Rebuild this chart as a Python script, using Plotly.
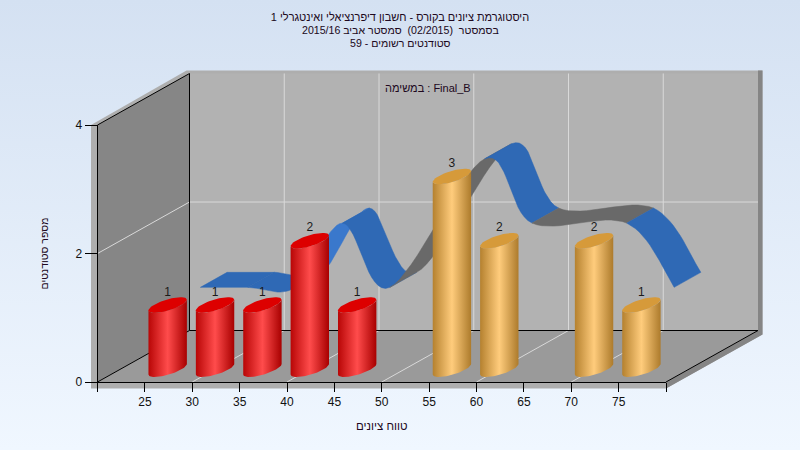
import numpy as np
import plotly.graph_objects as go

# ---- data
low_scores = [25, 30, 35, 40, 45]
low_counts = [1, 1, 1, 2, 1]
high_scores = [55, 60, 70, 75]
high_counts = [3, 2, 2, 1]
trend_scores = [25, 30, 35, 40, 45, 55, 60, 70, 75]
trend_values = [1, 1, 1, 2, 1, 3, 2, 2, 1]
x_ticks = [20, 25, 30, 35, 40, 45, 50, 55, 60, 65, 70, 75, 80]
x_tick_text = ["", "25", "30", "35", "40", "45", "50", "55", "60", "65", "70", "75", ""]
y_ticks = [0, 2, 4]
title_lines = [
    "היסטוגרמת ציונים בקורס - חשבון דיפרנציאלי ואינטגרלי 1",
    "בסמסטר  (02/2015)  סמסטר אביב 2015/16",
    "סטודנטים רשומים - 59",
]
task_note = "במשימה : Final_B"
x_title = "טווח ציונים"
y_title = "מספר סטודנטים"

# ---- geometry (pixels of the 800x450 page)
W, H = 800, 450
L, R, Y0, Y4 = 97.5, 666.0, 382.0, 125.0
DX, DY = 92.0, 51.5
PX_X = (R - L) / 60.0
PX_Y = (Y0 - Y4) / 4.0
FONT = "Liberation Sans, Arial, sans-serif"
TXT = "#200820"

fig = go.Figure()


def sy(p):
    return H - p


def poly(pts, fill):
    xs, ys = zip(*pts)
    fig.add_trace(go.Scatter(x=list(xs), y=[sy(v) for v in ys], mode="lines", fill="toself",
                             fillcolor=fill, line=dict(width=0), hoverinfo="skip",
                             xaxis="x", yaxis="y"))


def segs(lines, color, width=1.0):
    xs, ys = [], []
    for (a, b), (c, d) in lines:
        xs += [a, c, None]
        ys += [sy(b), sy(d), None]
    fig.add_trace(go.Scatter(x=xs, y=ys, mode="lines", line=dict(color=color, width=width),
                             hoverinfo="skip", xaxis="x", yaxis="y"))


# page background
fig.add_trace(go.Scatter(x=[0, W, W, 0, 0], y=[0, 0, H, H, 0], mode="lines", fill="toself",
                         fillgradient=dict(type="vertical",
                                           colorscale=[[0, "#f0f7ff"], [1, "#d4e1f2"]]),
                         line=dict(width=0), hoverinfo="skip", xaxis="x", yaxis="y"))

BL, BR, BT, BB = L + DX, R + DX, Y4 - DY, Y0 - DY
# outer frame
poly([(91, Y4), (BL - 3, BT - 3), (BR + 4.5, BT - 3), (BR + 4.5, BB + 4), (R, Y0 + 6.5), (91, Y0 + 6.5)], "#aeaeae")
poly([(BR, BT - 3), (BR + 4.5, BT - 3), (BR + 4.5, BB + 4), (R, Y0 + 6.5), (R, Y0), (BR, BB)], "#858585")
# walls and floor
poly([(BL, BT), (BR, BT), (BR, BB), (BL, BB)], "#b2b2b2")
poly([(L, Y4), (BL, BT), (BL, BB), (L, Y0)], "#868686")
poly([(L, Y0), (BL, BB), (BR, BB), (R, Y0)], "#9a9a9a")

# grid
gx = [v for v in x_ticks if v % 10 == 0 and 20 < v < 80]
grid = []
for v in gx:
    fx = L + (v - 20) * PX_X
    grid.append(((fx + DX, BT), (fx + DX, BB)))
    grid.append(((fx, Y0), (fx + DX, BB)))
fy = Y0 - 2 * PX_Y
grid.append(((L, fy), (BL, fy - DY)))
grid.append(((BL, fy - DY), (BR, fy - DY)))
segs(grid, "#d9d9d9", 1)

# black frame lines
segs([((BL, BT), (BL, BB)), ((BL, BB), (BR, BB)), ((L, Y0), (BL, BB)), ((L, Y4), (BL, BT)),
      ((R, Y0), (BR, BB)), ((L, Y0), (L, Y0 + 9))], "#000000", 1)


def xdom(shift):
    return [(L + shift) / W, (R + shift) / W]


def ydom(shift, low=0.0):
    return [(H - (Y0 - shift + low * PX_Y)) / H, (H - (Y4 - shift)) / H]


# ---- ribbon (series line with depth), axes x2/y2
RIB_SX, RIB_SY = 55.5, 30.4
RIB_DX, RIB_DY = 26.7 / PX_X, 15.0 / PX_Y
seg_colors = ["#2f69b5", "#2f69b5", "#3a78cc", "#2f69b5", "#696969", "#2f69b5", "#696969", "#2f69b5"]
px_ = np.array(trend_scores, float)
py_ = np.array(trend_values, float)
for i in range(len(px_) - 1):
    a = max(i - 1, 0)
    d = min(i + 2, len(px_) - 1)
    tx0, ty0 = (px_[i + 1] - px_[a]) / 2, (py_[i + 1] - py_[a]) / 2
    tx1, ty1 = (px_[d] - px_[i]) / 2, (py_[d] - py_[i]) / 2
    t = np.linspace(0, 1, 17)
    h00, h10, h01, h11 = 2*t**3-3*t**2+1, t**3-2*t**2+t, -2*t**3+3*t**2, t**3-t**2
    cx = h00*px_[i] + h10*tx0 + h01*px_[i+1] + h11*tx1
    cy = h00*py_[i] + h10*ty0 + h01*py_[i+1] + h11*ty1
    ex = np.concatenate([cx, (cx + RIB_DX)[::-1], cx[:1]])
    ey = np.concatenate([cy, (cy + RIB_DY)[::-1], cy[:1]])
    fig.add_trace(go.Scatter(x=ex, y=ey, mode="lines", fill="toself", fillcolor=seg_colors[i],
                             line=dict(width=0.5, color=seg_colors[i]), hoverinfo="skip",
                             xaxis="x2", yaxis="y2"))

# ---- cylinders, axes x3/y3
BAR_SX, BAR_SY = 22.8, 12.8
RX, SH, K = 19.2 / PX_X, 5.3 / PX_Y, 5.7 / PX_Y


def cylinder(score, value, scale, top):
    t1 = np.linspace(np.pi, 0, 41)
    bx = score + RX * np.cos(t1)
    by = SH * np.cos(t1) - K * np.sin(t1)
    t2 = np.linspace(0, np.pi, 41)
    tx = score + RX * np.cos(t2)
    ty = value + SH * np.cos(t2) - K * np.sin(t2)
    fig.add_trace(go.Scatter(x=np.concatenate([bx, tx]), y=np.concatenate([by, ty]), mode="lines",
                             fill="toself", line=dict(width=0),
                             fillgradient=dict(type="horizontal", colorscale=scale),
                             hoverinfo="skip", xaxis="x3", yaxis="y3"))
    t3 = np.linspace(0, 2 * np.pi, 61)
    fig.add_trace(go.Scatter(x=score + RX * np.cos(t3), y=value + SH * np.cos(t3) + K * np.sin(t3),
                             mode="lines", fill="toself", fillcolor=top, line=dict(width=0),
                             hoverinfo="skip", xaxis="x3", yaxis="y3"))


red_scale = [[0, "#b80606"], [0.5, "#ff4c4c"], [1, "#a80000"]]
gold_scale = [[0, "#b5812f"], [0.5, "#ffcc7c"], [1, "#ad7b2c"]]
for s, v in zip(low_scores, low_counts):
    cylinder(s, v, red_scale, "#dd0000")
for s, v in zip(high_scores, high_counts):
    cylinder(s, v, gold_scale, "#d69a3a")

fig.add_trace(go.Scatter(x=low_scores + high_scores, y=[v + 0.1 for v in low_counts + high_counts],
                         mode="text", text=[str(v) for v in low_counts + high_counts],
                         textposition="top center", textfont=dict(family=FONT, size=12, color="#1a1a1a"),
                         hoverinfo="skip", xaxis="x3", yaxis="y3"))

# ---- front axes, x4/y4 (carry the ticks and labels)
fig.add_trace(go.Scatter(x=[20, 80], y=[0, 4], mode="markers", marker=dict(opacity=0),
                         hoverinfo="skip", xaxis="x4", yaxis="y4"))

hidden = dict(visible=False, fixedrange=True)
LOW = 0.25
fig.update_layout(
    width=W, height=H, margin=dict(l=0, r=0, t=0, b=0, pad=0, autoexpand=False), showlegend=False,
    paper_bgcolor="#e6eefa", plot_bgcolor="rgba(0,0,0,0)", font=dict(family=FONT, color=TXT),
    title=dict(text=title_lines[0], x=0.5, xanchor="center", y=1 - 17.5 / H, yanchor="middle",
               font=dict(family=FONT, size=11, color=TXT)),
    xaxis=dict(domain=[0, 1], range=[0, W], **hidden),
    yaxis=dict(domain=[0, 1], range=[0, H], **hidden),
    xaxis2=dict(domain=xdom(RIB_SX), range=[20, 80], anchor="y2", **hidden),
    yaxis2=dict(domain=ydom(RIB_SY), range=[0, 4], anchor="x2", **hidden),
    xaxis3=dict(domain=xdom(BAR_SX), range=[20, 80], anchor="y3", **hidden),
    yaxis3=dict(domain=ydom(BAR_SY, LOW), range=[-LOW, 4], anchor="x3", **hidden),
    xaxis4=dict(domain=xdom(0), range=[20, 80], anchor="y4", tickmode="array", tickvals=x_ticks,
                ticktext=x_tick_text, ticks="outside", ticklen=9, tickcolor="#000", showline=True,
                linecolor="#000", linewidth=1, showgrid=False, zeroline=False, fixedrange=True,
                tickfont=dict(family=FONT, size=12, color="#111"),
                title=dict(text=x_title, standoff=13, font=dict(family=FONT, size=11.5, color=TXT))),
    yaxis4=dict(domain=ydom(0), range=[0, 4], anchor="x4", tickmode="array", tickvals=y_ticks,
                ticks="outside", ticklen=12, tickcolor="#000", showline=True, linecolor="#000",
                linewidth=1, showgrid=False, zeroline=False, fixedrange=True,
                tickfont=dict(family=FONT, size=12, color="#111"),
                title=dict(text=y_title, standoff=24, font=dict(family=FONT, size=10.5, color=TXT))),
    annotations=[
        dict(text=title_lines[1], x=0.5, y=1 - 29.8 / H, xref="paper", yref="paper", showarrow=False,
             xanchor="center", yanchor="middle", font=dict(family=FONT, size=10.6, color=TXT)),
        dict(text=title_lines[2], x=0.5, y=1 - 42.5 / H, xref="paper", yref="paper", showarrow=False,
             xanchor="center", yanchor="middle", font=dict(family=FONT, size=10.6, color=TXT)),
        dict(text=task_note, x=427.5 / W, y=1 - 88 / H, xref="paper", yref="paper", showarrow=False,
             xanchor="center", yanchor="middle", font=dict(family=FONT, size=11, color=TXT)),
    ],
)

fig.write_html("out.html", post_script="document.body.style.margin='0';", config=dict(displayModeBar=False))
